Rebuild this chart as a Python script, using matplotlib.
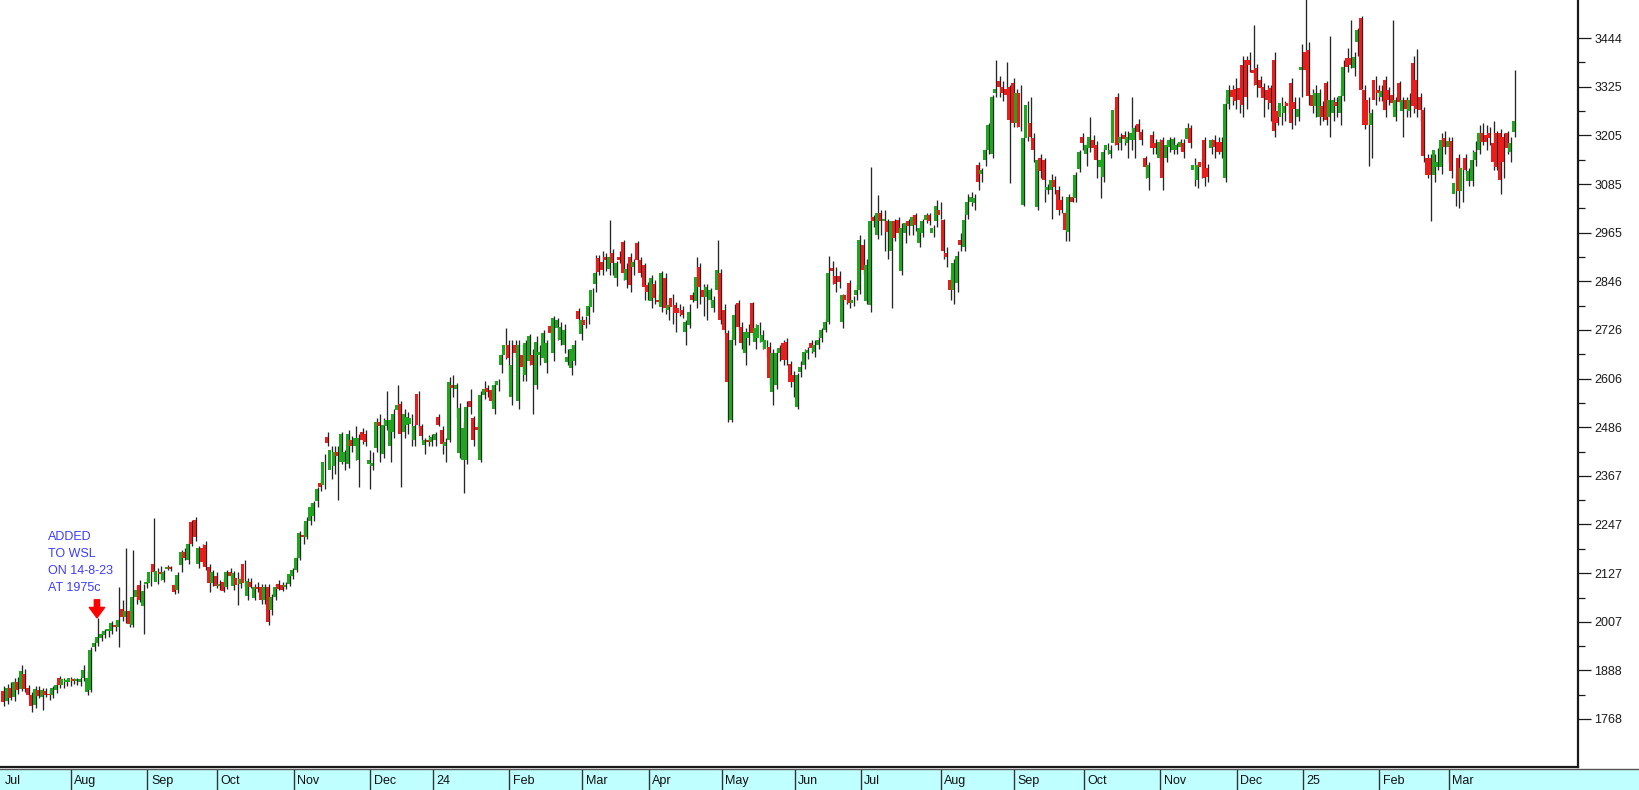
import matplotlib
matplotlib.use("Agg")
import matplotlib.pyplot as plt
import numpy as np

# ---------------- data ----------------
opens = [
    # Jul 2023
    1838,1812,1845,1822,1858,1842,1880,1845,1826,1802,1840,1822,1838,1830,1826,1840,1868,1852,1860,1858,
    # Aug 2023
    1866,1862,1860,1870,1835,1840,1945,1955,1968,1975,1985,1985,2000,1995,2040,2020,2035,2000,2068,2098,2045,2100,
    # Sep 2023
    2102,2150,2105,2130,2110,2138,2140,2098,2086,2148,2180,2160,2254,2258,2150,2190,2197,2143,2102,2120,
    # Oct 2023
    2095,2105,2094,2130,2095,2115,2100,2150,2070,2105,2066,2092,2094,2060,2094,2036,2069,2100,2098,2094,2100,2120,
    # Nov 2023
    2135,2165,2220,2215,2255,2268,2305,2348,2345,2462,2380,2390,2425,2400,2400,2395,2455,2440,2405,2475,2470,2395,
    # Dec 2023
    2390,2435,2500,2420,2490,2440,2475,2528,2543,2475,2492,2495,2455,2567,2490,2443,2455,2450,
    # Jan 2024
    2455,2512,2480,2440,2455,2590,2580,2422,2406,2406,2552,2508,2488,2406,2565,2582,2577,2530,2590,2640,2665,2690,
    # Feb 2024
    2560,2690,2552,2665,2615,2650,2665,2590,2665,2656,2645,2735,2670,2730,2700,2690,2648,2632,2650,2772,2717,
    # Mar 2024
    2750,2760,2783,2840,2902,2894,2906,2877,2915,2853,2906,2943,2849,2906,2880,2939,2898,2886,2836,
    # Apr 2024
    2796,2840,2800,2783,2853,2775,2804,2787,2780,2775,2722,2738,2812,2796,2882,2824,2808,2800,2780,2824,2865,
    # May 2024
    2775,2718,2504,2701,2791,2734,2668,2705,2791,2697,2705,2697,2680,2685,2574,2590,2668,2693,2697,2643,2615,
    # Jun 2024
    2537,2622,2640,2668,2693,2672,2689,2705,2726,2746,2878,2858,2858,2746,2812,2841,2792,2812,2825,
    # Jul 2024
    2935,2796,2787,3005,2960,3013,2993,2993,2919,2993,2997,2870,2964,2993,2981,3010,2940,2964,2997,3009,2964,2993,3020,
    # Aug 2024
    2997,2915,2850,2825,2841,2948,2931,3009,3042,3038,3132,3110,3144,3169,3160,3310,3340,3325,3320,3325,3333,
    # Sep 2024
    3235,3308,3033,3198,3235,3198,3029,3148,3144,3070,3070,3095,3070,3046,3013,2968,3054,3050,3123,3200,
    # Oct 2024
    3158,3175,3194,3180,3128,3103,3170,3160,3185,3300,3185,3206,3185,3193,3193,3234,3214,3148,3099,3206,3185,3148,
    # Nov 2024
    3193,3148,3177,3169,3169,3177,3185,3197,3222,3120,3095,3140,3193,3124,3173,3193,3189,3189,3099,3283,3316,3320,
    # Dec 2024
    3321,3378,3390,3390,3366,3370,3341,3325,3317,3321,3390,3264,3251,3260,3284,3333,3288,3251,3366,
    # Jan 2025
    3411,3415,3305,3276,3251,3276,3333,3251,3260,3288,3260,3301,3395,3395,3370,3436,3493,3317,3292,3231,3341,3317,
    # Feb 2025
    3300,3341,3317,3305,3251,3333,3266,3292,3266,3382,3341,3300,3268,3149,3149,3108,3128,3128,3198,3177,
    # Mar 2025
    3190,3060,3149,3067,3149,3092,3092,3145,3169,3210,3206,3210,3185,3210,3210,3200,3210,3165,3214,
]
highs = [
    1850,1855,1860,1870,1872,1901,1890,1852,1835,1848,1850,1845,1845,1840,1850,1858,1875,1868,1870,1872,
    1870,1868,1872,1900,1885,1945,1965,2017,1985,1990,1992,2010,2010,2094,2060,2190,2045,2185,2095,2110,2100,2115,
    2135,2263,2140,2145,2135,2148,2145,2102,2130,2185,2190,2205,2258,2265,2195,2200,2205,2150,2135,2130,
    2110,2115,2135,2140,2132,2130,2120,2160,2115,2115,2100,2105,2100,2100,2100,2075,2100,2110,2105,2105,2128,2140,
    2170,2230,2250,2265,2300,2305,2340,2360,2420,2475,2440,2440,2440,2475,2430,2480,2465,2490,2470,2485,2480,2430,
    2425,2510,2520,2510,2575,2510,2530,2590,2550,2530,2525,2520,2495,2575,2495,2460,2468,2470,
    2475,2520,2490,2460,2610,2615,2595,2545,2500,2550,2580,2515,2500,2575,2600,2590,2590,2600,2605,2670,2730,2700,
    2700,2700,2700,2690,2700,2715,2680,2710,2690,2725,2700,2740,2760,2755,2745,2740,2680,2690,2700,2780,2760,
    2760,2790,2830,2910,2910,2920,2915,2996,2925,2895,2920,2948,2890,2915,2900,2945,2905,2890,2845,
    2860,2850,2815,2870,2865,2800,2815,2795,2790,2785,2750,2790,2820,2906,2890,2840,2840,2830,2810,2948,2875,
    2790,2725,2710,2790,2800,2745,2730,2740,2795,2740,2745,2725,2700,2695,2680,2680,2690,2700,2705,2650,2625,
    2620,2650,2680,2685,2700,2700,2710,2730,2755,2907,2895,2880,2870,2815,2825,2850,2810,2840,2960,
    2950,2900,3126,3010,3058,3020,3020,3000,2995,3000,3005,2990,2995,3000,3010,3015,2985,3000,3015,3013,2985,3046,3040,
    3000,2930,2860,2900,2920,2965,3015,3060,3065,3060,3140,3125,3175,3235,3305,3390,3350,3340,3385,3330,3345,
    3320,3330,3200,3290,3300,3210,3150,3160,3150,3085,3110,3105,3080,3055,3020,3060,3065,3115,3170,3210,
    3190,3250,3205,3190,3150,3175,3185,3180,3275,3310,3210,3215,3215,3300,3230,3245,3220,3155,3140,3215,3195,3195,
    3200,3190,3200,3200,3185,3195,3195,3235,3230,3150,3140,3150,3200,3135,3195,3205,3200,3200,3300,3330,3330,3345,
    3340,3400,3400,3410,3477,3380,3350,3335,3330,3330,3410,3280,3300,3290,3295,3345,3300,3300,3430,
    3545,3435,3320,3330,3320,3290,3340,3450,3300,3300,3320,3390,3420,3490,3410,3470,3500,3330,3300,3270,3350,3330,
    3330,3350,3325,3490,3300,3340,3300,3300,3310,3400,3417,3310,3275,3160,3160,3160,3175,3210,3215,3200,
    3200,3110,3160,3130,3160,3125,3170,3190,3230,3235,3230,3225,3240,3215,3220,3210,3215,3200,3366,
]
lows = [
    1800,1805,1815,1812,1830,1838,1835,1820,1785,1795,1820,1790,1822,1815,1820,1832,1845,1845,1850,1850,
    1855,1852,1848,1862,1828,1835,1935,1948,1960,1968,1970,1978,1985,1946,2010,2005,1995,1995,2050,2055,1978,2090,
    2095,2125,2100,2110,2105,2135,2132,2075,2078,2130,2160,2150,2195,2205,2140,2150,2135,2080,2095,2090,
    2085,2080,2088,2115,2085,2048,2090,2095,2062,2090,2060,2080,2050,2050,2000,2025,2060,2085,2082,2088,2095,2112,
    2130,2160,2200,2210,2245,2255,2290,2330,2335,2440,2360,2370,2307,2395,2380,2385,2425,2405,2340,2445,2440,2335,
    2380,2425,2400,2410,2480,2400,2460,2520,2340,2460,2470,2440,2440,2485,2455,2420,2440,2440,
    2440,2490,2420,2400,2450,2560,2510,2410,2325,2395,2520,2440,2430,2400,2555,2560,2545,2520,2575,2620,2655,2600,
    2540,2660,2530,2600,2600,2640,2520,2580,2640,2650,2620,2700,2650,2700,2690,2670,2640,2614,2640,2740,2700,
    2730,2740,2770,2820,2860,2860,2870,2860,2860,2835,2890,2850,2830,2820,2860,2890,2855,2800,2800,
    2780,2790,2790,2770,2765,2750,2740,2720,2760,2755,2690,2730,2795,2780,2790,2760,2750,2790,2770,2815,2740,
    2715,2500,2500,2690,2725,2680,2640,2690,2710,2680,2695,2680,2660,2590,2540,2580,2650,2640,2640,2585,2560,
    2530,2610,2630,2655,2670,2660,2680,2695,2720,2740,2840,2820,2830,2730,2790,2780,2785,2800,2815,
    2860,2790,2770,2980,2950,2960,2920,2900,2779,2945,2950,2860,2940,2960,2960,2970,2930,2955,2990,2985,2955,2980,3000,
    2900,2880,2800,2790,2820,2920,2920,3000,3030,3020,3070,3090,3130,3160,3150,3300,3300,3290,3300,3087,3225,
    3225,3215,3030,3190,3190,3140,3020,3100,3040,3060,3000,3060,3010,3015,2945,2945,3040,3040,3115,3170,
    3130,3165,3150,3100,3050,3090,3160,3150,3180,3170,3170,3180,3150,3170,3150,3200,3180,3100,3070,3160,3160,3140,
    3070,3140,3165,3160,3160,3170,3150,3190,3175,3080,3075,3100,3080,3090,3160,3150,3160,3150,3090,3270,3280,3270,
    3260,3250,3270,3360,3330,3300,3310,3250,3270,3240,3200,3230,3230,3240,3260,3220,3230,3240,3300,
    3360,3280,3260,3250,3230,3240,3230,3200,3240,3250,3230,3290,3360,3370,3350,3400,3320,3220,3130,3150,3280,3290,
    3290,3250,3280,3270,3240,3280,3200,3250,3250,3260,3250,3240,3140,3100,2995,3090,3120,3110,3160,3140,
    3100,3030,3026,3040,3110,3080,3080,3130,3160,3180,3170,3180,3120,3120,3060,3100,3160,3140,3200,
]
closes = [
    1810,1845,1820,1860,1840,1885,1842,1828,1800,1842,1825,1840,1828,1826,1845,1852,1852,1866,1864,1868,
    1862,1864,1866,1888,1868,1938,1955,1970,1978,1985,1988,2004,1995,2012,2018,2035,2002,2068,2085,2062,2082,2105,
    2130,2130,2132,2125,2130,2142,2138,2080,2123,2180,2165,2200,2200,2215,2190,2155,2143,2102,2130,2095,
    2100,2084,2130,2120,2128,2098,2112,2102,2108,2094,2094,2088,2060,2094,2008,2069,2094,2088,2086,2096,2125,2135,
    2165,2225,2215,2255,2290,2300,2335,2340,2400,2448,2430,2425,2415,2470,2425,2470,2440,2460,2460,2455,2450,2405,
    2398,2500,2490,2492,2505,2505,2520,2540,2470,2520,2512,2510,2490,2492,2465,2455,2450,2462,
    2470,2492,2445,2450,2598,2582,2590,2533,2484,2536,2536,2455,2480,2565,2580,2574,2550,2590,2600,2665,2690,2656,
    2640,2668,2690,2635,2693,2710,2640,2697,2672,2718,2693,2718,2755,2750,2734,2725,2660,2680,2690,2752,2750,
    2738,2785,2824,2865,2869,2873,2898,2906,2890,2890,2898,2865,2877,2836,2894,2898,2865,2832,2820,
    2853,2804,2795,2865,2779,2787,2783,2767,2767,2762,2746,2771,2800,2857,2832,2808,2832,2824,2800,2873,2750,
    2726,2598,2701,2763,2734,2693,2722,2722,2718,2730,2738,2714,2701,2607,2668,2668,2681,2652,2652,2598,2598,
    2615,2635,2672,2676,2681,2689,2701,2726,2746,2866,2870,2840,2845,2812,2800,2792,2800,2825,2948,
    2874,2886,2993,2993,3013,2993,3000,2968,2993,2952,2964,2977,2989,2981,3005,2985,2977,2993,3009,2993,2977,3030,3010,
    2919,2905,2825,2890,2907,2935,2997,3042,3054,3050,3091,3120,3169,3230,3300,3320,3325,3310,3305,3243,3235,
    3310,3226,3198,3280,3200,3169,3144,3116,3095,3078,3095,3079,3021,3021,2972,3054,3042,3107,3165,3185,
    3182,3200,3174,3144,3144,3165,3180,3170,3267,3181,3200,3197,3200,3210,3222,3214,3193,3128,3132,3173,3173,3189,
    3099,3181,3193,3197,3181,3189,3165,3222,3185,3132,3132,3128,3099,3103,3193,3177,3165,3165,3283,3316,3300,3290,
    3292,3280,3300,3378,3358,3329,3321,3296,3292,3284,3215,3235,3284,3278,3276,3235,3270,3270,3374,
    3366,3301,3276,3309,3309,3251,3243,3292,3292,3276,3301,3374,3374,3378,3399,3465,3317,3231,3231,3260,3292,3309,
    3313,3268,3292,3284,3292,3288,3292,3270,3292,3276,3270,3268,3153,3108,3108,3169,3140,3194,3177,3190,
    3117,3087,3067,3124,3120,3116,3145,3165,3210,3188,3188,3198,3139,3128,3095,3140,3173,3186,3240,
]

month_labels = ["Jul", "Aug", "Sep", "Oct", "Nov", "Dec", "24", "Feb", "Mar", "Apr", "May", "Jun",
                "Jul", "Aug", "Sep", "Oct", "Nov", "Dec", "25", "Feb", "Mar"]
month_counts = [20, 22, 20, 22, 22, 18, 22, 21, 19, 21, 21, 19, 23, 21, 20, 22, 22, 19, 22, 20, 19]

y_tick_labels = ["1768", "1888", "2007", "2127", "2247", "2367", "2486", "2606",
                 "2726", "2846", "2965", "3085", "3205", "3325", "3444"]

note_text = "ADDED\nTO WSL\nON 14-8-23\nAT 1975c"
note_index = 27

# ---------------- figure ----------------
plt.rcParams['font.family'] = ['Liberation Sans', 'DejaVu Sans']

W, H = 1640, 790
DPI = 100
fig = plt.figure(figsize=(W / DPI, H / DPI), dpi=DPI)
fig.patch.set_facecolor('white')

px_per = 3.48            # pixels per trading day
x0 = -3.0 / px_per       # left limit so first candle sits 3px in
plot_w, plot_h = 1578, 767
band_h = 21

ax = fig.add_axes([0, (H - plot_h) / H, plot_w / W, plot_h / H])
ax.set_xlim(x0, x0 + plot_w / px_per)
ax.set_ylim(1649.8, 3538.2)

o = np.array(opens, float)
h = np.array(highs, float)
l = np.array(lows, float)
c = np.array(closes, float)
idx = np.arange(len(c))

green = '#1ea61e'
red = '#ea1c1c'
cols = np.where(c >= o, green, red)

# wicks (to the right side of the body)
ax.vlines(idx + 0.40, l, h, color='#262626', linewidth=0.95, zorder=2)
# bodies
bottom = np.minimum(o, c)
height = np.maximum(np.abs(c - o), 3.5)
ax.bar(idx - 0.05, height, bottom=bottom, width=0.86, color=cols, linewidth=0, zorder=3)

# spines
for s in ['top', 'left']:
    ax.spines[s].set_visible(False)
for s in ['right', 'bottom']:
    ax.spines[s].set_linewidth(1.6)
    ax.spines[s].set_color('#1a1a1a')

ax.set_xticks([])
ticks = [int(t) for t in y_tick_labels]
ax.yaxis.tick_right()
ax.set_yticks(ticks)
ax.set_yticklabels(y_tick_labels)
minors = [(a + b) / 2 for a, b in zip(ticks[:-1], ticks[1:])]
ax.set_yticks(minors, minor=True)
ax.tick_params(axis='y', which='major', length=9.5, width=0.9, pad=2.2,
               labelsize=9, colors='#1a1a1a', direction='out')
ax.tick_params(axis='y', which='minor', length=5, width=0.9, colors='#1a1a1a', direction='out')

# annotation: arrow + text anchored to the noted candle
anchor = (note_index, highs[note_index])
ax.annotate('', xy=anchor, xytext=(0, 13), textcoords='offset points',
            arrowprops=dict(arrowstyle='simple,head_length=0.75,head_width=1.1,tail_width=0.38',
                            color='#ff0000', shrinkA=0, shrinkB=0, mutation_scale=10),
            zorder=5)
ax.annotate(note_text, xy=anchor, xytext=(-49, 24), textcoords='offset pixels',
            ha='left', va='bottom', fontsize=9, color='#3c3cff', linespacing=1.55, zorder=5)

# bottom month band
bax = fig.add_axes([0, 0, 1, band_h / H])
bax.set_facecolor('#c0ffff')
bax.set_xlim(x0, x0 + W / px_per)
bax.set_ylim(0, 1)
bax.set_xticks([])
bax.set_yticks([])
for s in ['left', 'right', 'bottom']:
    bax.spines[s].set_visible(False)
bax.spines['top'].set_color('#555555')
bax.spines['top'].set_linewidth(1.0)

starts = np.concatenate([[0], np.cumsum(month_counts)[:-1]])
for st, lab in zip(starts, month_labels):
    xb = st - 0.5
    if st > 0:
        bax.axvline(xb, color='#333333', linewidth=1.0)
    bax.text(xb + 3.5 / px_per, 0.45, lab, ha='left', va='center', fontsize=9, color='#111111')

fig.savefig('out.png', dpi=DPI, facecolor='white')
